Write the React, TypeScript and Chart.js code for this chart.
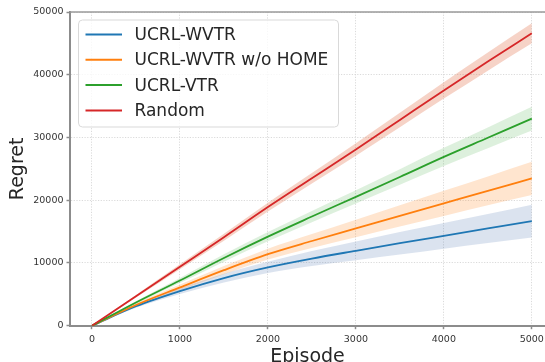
import React, { useEffect, useRef } from "react";
import { Chart, registerables } from "chart.js";

Chart.register(...registerables);

const episodes = [0, 500, 1000, 1500, 2000, 2500, 3000, 3500, 4000, 4500, 5000];
const xTicks = [0, 1000, 2000, 3000, 4000, 5000];
const yTicks = [0, 10000, 20000, 30000, 40000, 50000];
const seriesNames = ["UCRL-WVTR", "UCRL-WVTR w/o HOME", "UCRL-VTR", "Random"];

const ucrlWvtr = [0, 3100, 5520, 7600, 9300, 10700, 11940, 13150, 14330, 15500, 16670];
const ucrlWvtrSpread = [0, 250, 450, 700, 900, 1200, 1500, 1800, 2050, 2300, 2600];
const ucrlWvtrNoHome = [0, 3300, 6100, 8850, 11400, 13500, 15500, 17500, 19500, 21500, 23470];
const ucrlWvtrNoHomeSpread = [0, 250, 450, 650, 850, 1100, 1400, 1700, 2000, 2300, 2650];
const ucrlVtr = [0, 3700, 7200, 10800, 14200, 17400, 20540, 23700, 26900, 29950, 33000];
const ucrlVtrSpread = [0, 200, 400, 600, 750, 900, 1050, 1250, 1450, 1650, 1900];
const random = [0, 4700, 9400, 14100, 18900, 23500, 28100, 32800, 37500, 42100, 46600];
const randomSpread = [0, 200, 400, 550, 700, 850, 1000, 1150, 1300, 1450, 1600];

const lineColors = ["#1f77b4", "#ff7f0e", "#2ca02c", "#d62728"];
const bandColors = [
  "rgba(76,114,176,0.2)",
  "rgba(255,127,14,0.2)",
  "rgba(44,160,44,0.16)",
  "rgba(225,110,70,0.3)",
];

const FONT = "'DejaVu Sans', sans-serif";
const SPINE = "#8c8c8c";

const legendPlugin = {
  id: "boxLegend",
  afterDraw(chart: any) {
    const { ctx, chartArea } = chart;
    // keep the right edge open, as in the cropped original
    ctx.save();
    ctx.fillStyle = "#ffffff";
    ctx.fillRect(chartArea.right - 2.5, chartArea.top + 1, 3, chartArea.bottom - chartArea.top - 2);
    ctx.restore();

    const bx = chartArea.left + 8.5;
    const by = chartArea.top + 8;
    const bw = 260;
    const bh = 107;
    ctx.save();
    ctx.beginPath();
    const r = 4;
    ctx.moveTo(bx + r, by);
    ctx.lineTo(bx + bw - r, by);
    ctx.quadraticCurveTo(bx + bw, by, bx + bw, by + r);
    ctx.lineTo(bx + bw, by + bh - r);
    ctx.quadraticCurveTo(bx + bw, by + bh, bx + bw - r, by + bh);
    ctx.lineTo(bx + r, by + bh);
    ctx.quadraticCurveTo(bx, by + bh, bx, by + bh - r);
    ctx.lineTo(bx, by + r);
    ctx.quadraticCurveTo(bx, by, bx + r, by);
    ctx.closePath();
    ctx.fillStyle = "rgba(255,255,255,0.8)";
    ctx.fill();
    ctx.strokeStyle = "#d9d9d9";
    ctx.lineWidth = 1;
    ctx.stroke();
    ctx.font = `17px ${FONT}`;
    ctx.textBaseline = "middle";
    ctx.textAlign = "left";
    seriesNames.forEach((name, i) => {
      const ry = by + 14.5 + i * 25.3;
      ctx.strokeStyle = lineColors[i];
      ctx.lineWidth = 2;
      ctx.beginPath();
      ctx.moveTo(bx + 7, ry);
      ctx.lineTo(bx + 43.5, ry);
      ctx.stroke();
      ctx.fillStyle = "#262626";
      ctx.fillText(name, bx + 56, ry + 1);
    });
    ctx.restore();
  },
};

const topSpinePlugin = {
  id: "topSpine",
  afterDatasetsDraw(chart: any) {
    const { ctx, chartArea } = chart;
    ctx.save();
    ctx.strokeStyle = "#9a9a9a";
    ctx.lineWidth = 1.5;
    ctx.beginPath();
    ctx.moveTo(chartArea.left, chartArea.top);
    ctx.lineTo(chartArea.right, chartArea.top);
    ctx.stroke();
    ctx.restore();
  },
};

export default function App() {
  const ref = useRef<HTMLCanvasElement | null>(null);

  useEffect(() => {
    document.body.style.margin = "0";
    document.body.style.overflow = "hidden";
    const series = [ucrlWvtr, ucrlWvtrNoHome, ucrlVtr, random];
    const spreads = [ucrlWvtrSpread, ucrlWvtrNoHomeSpread, ucrlVtrSpread, randomSpread];
    const datasets: any[] = [];
    series.forEach((vals, i) => {
      datasets.push({
        label: `${seriesNames[i]} lower`,
        data: episodes.map((x, k) => ({ x, y: vals[k] - spreads[i][k] })),
        borderWidth: 0,
        borderColor: "transparent",
        pointRadius: 0,
        fill: false,
        cubicInterpolationMode: "monotone",
        order: 20 + i,
      });
      datasets.push({
        label: `${seriesNames[i]} upper`,
        data: episodes.map((x, k) => ({ x, y: vals[k] + spreads[i][k] })),
        borderWidth: 0,
        borderColor: "transparent",
        pointRadius: 0,
        fill: "-1",
        backgroundColor: bandColors[i],
        cubicInterpolationMode: "monotone",
        order: 20 + i,
      });
    });
    series.forEach((vals, i) => {
      datasets.push({
        label: seriesNames[i],
        data: episodes.map((x, k) => ({ x, y: vals[k] })),
        borderColor: lineColors[i],
        borderWidth: 1.8,
        pointRadius: 0,
        fill: false,
        cubicInterpolationMode: "monotone",
        order: 10 - i,
      });
    });

    const chart = new Chart(ref.current as HTMLCanvasElement, {
      type: "line",
      data: { datasets },
      options: {
        animation: false,
        responsive: true,
        maintainAspectRatio: false,
        layout: { padding: { top: 12, right: 0, left: 0, bottom: 0 } },
        plugins: {
          legend: { display: false },
          tooltip: { enabled: false },
          filler: { drawTime: "beforeDatasetsDraw" },
        },
        scales: {
          x: {
            type: "linear",
            min: -250,
            max: 5150,
            afterBuildTicks: (s: any) => {
              s.ticks = xTicks.map((v) => ({ value: v }));
            },
            afterFit: (s: any) => {
              s.height = 36.3;
              s.paddingLeft = 0;
              s.paddingRight = 0;
            },
            grid: {
              color: "#d0d0d0",
              lineWidth: 0.8,
              drawTicks: true,
              tickLength: 3.5,
              tickColor: SPINE,
              tickWidth: 1.5,
            },
            border: { display: true, color: SPINE, width: 2, dash: [1.2, 1.5] },
            ticks: {
              color: "#333333",
              font: { family: FONT, size: 9.5 },
              padding: 5,
              maxRotation: 0,
              callback: (v: any) => String(v),
            },
            title: {
              display: true,
              text: "Episode",
              color: "#262626",
              font: { family: FONT, size: 19, lineHeight: 1 },
              padding: { top: 0, bottom: -5 },
            },
          },
          y: {
            type: "linear",
            min: 0,
            max: 50000,
            afterBuildTicks: (s: any) => {
              s.ticks = yTicks.map((v) => ({ value: v }));
            },
            afterFit: (s: any) => {
              s.width = 70;
              s.paddingTop = 0;
              s.paddingBottom = 0;
            },
            grid: {
              color: "#d0d0d0",
              lineWidth: 0.8,
              drawTicks: true,
              tickLength: 3.5,
              tickColor: SPINE,
              tickWidth: 1.5,
            },
            border: { display: true, color: SPINE, width: 2, dash: [1.2, 1.5] },
            ticks: {
              color: "#333333",
              font: { family: FONT, size: 9.5 },
              padding: 3,
              callback: (v: any) => String(v),
            },
            title: {
              display: true,
              text: "Regret",
              color: "#262626",
              font: { family: FONT, size: 19, lineHeight: 1 },
              padding: { top: 9, bottom: 0 },
            },
          },
        },
      },
      plugins: [topSpinePlugin, legendPlugin],
    });
    return () => chart.destroy();
  }, []);

  return (
    <div style={{ position: "absolute", left: 0, top: 0, width: 545, height: 362, overflow: "hidden" }}>
      <canvas ref={ref} style={{ display: "block" }} />
    </div>
  );
}
